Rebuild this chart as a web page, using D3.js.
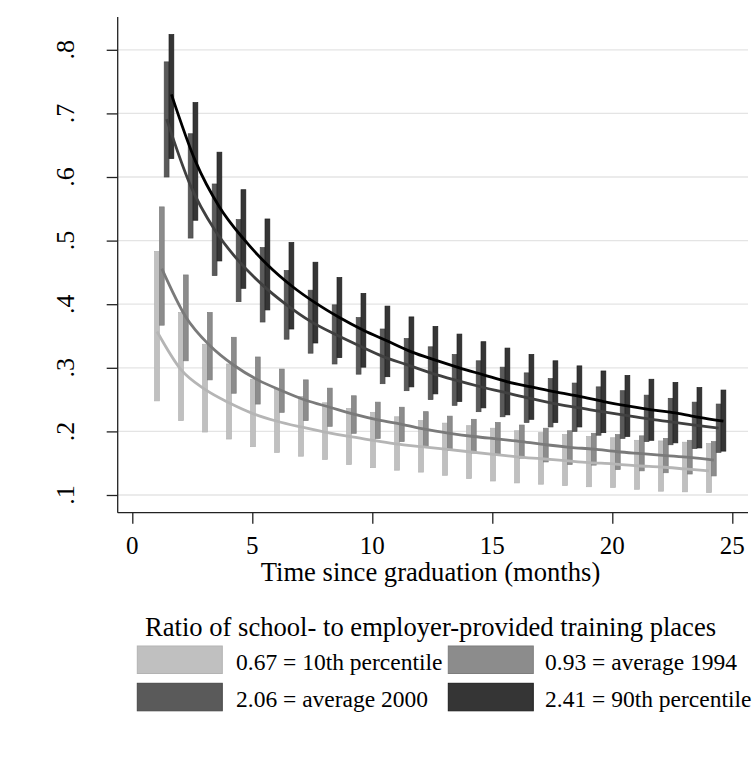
<!DOCTYPE html>
<html>
<head>
<meta charset="utf-8">
<script src="https://cdn.jsdelivr.net/npm/d3@7"></script>
<style>
  html, body { margin: 0; padding: 0; background: #fff; }
  svg { display: block; }
  text { font-family: "Liberation Serif", "Times New Roman", serif; fill: #000; }
</style>
</head>
<body>
<div id="chart"></div>
<script>
// ---------------- data ----------------
const months = [1,2,3,4,5,6,7,8,9,10,11,12,13,14,15,16,17,18,19,20,21,22,23,24];

const seriesNames = ["0.67 = 10th percentile", "0.93 = average 1994", "2.06 = average 2000", "2.41 = 90th percentile"];
const legendTitle = "Ratio of school- to employer-provided training places";
const xTitle = "Time since graduation (months)";
const xTicks = [0, 5, 10, 15, 20, 25];
const yTicks = [0.1, 0.2, 0.3, 0.4, 0.5, 0.6, 0.7, 0.8];
const yTickLabels = [".1", ".2", ".3", ".4", ".5", ".6", ".7", ".8"];

// 0.67 = 10th percentile
const p10Est = [0.357,0.297,0.266,0.245,0.228,0.216,0.207,0.199,0.192,0.186,0.180,0.176,0.172,0.168,0.164,0.160,0.157,0.154,0.151,0.149,0.146,0.144,0.141,0.138];
const p10Lo  = [0.248,0.217,0.199,0.188,0.176,0.167,0.161,0.156,0.148,0.143,0.139,0.136,0.131,0.126,0.122,0.119,0.117,0.115,0.113,0.112,0.109,0.106,0.105,0.104];
const p10Hi  = [0.483,0.387,0.337,0.306,0.282,0.266,0.255,0.245,0.236,0.230,0.223,0.217,0.213,0.209,0.205,0.201,0.198,0.195,0.192,0.190,0.186,0.185,0.183,0.181];

// 0.93 = average 1994
const a94Est = [0.456,0.380,0.335,0.304,0.281,0.264,0.249,0.238,0.227,0.218,0.211,0.203,0.197,0.192,0.188,0.184,0.179,0.175,0.172,0.168,0.165,0.162,0.159,0.155];
const a94Lo  = [0.367,0.311,0.281,0.260,0.243,0.230,0.217,0.208,0.197,0.189,0.184,0.175,0.170,0.166,0.162,0.158,0.152,0.148,0.147,0.140,0.138,0.135,0.133,0.130];
const a94Hi  = [0.553,0.446,0.387,0.348,0.317,0.298,0.281,0.268,0.256,0.246,0.238,0.231,0.224,0.219,0.214,0.210,0.205,0.201,0.197,0.195,0.193,0.189,0.186,0.184];

// 2.06 = average 2000
const a00Est = [0.691,0.586,0.517,0.468,0.430,0.399,0.373,0.353,0.335,0.318,0.305,0.292,0.281,0.271,0.262,0.253,0.245,0.238,0.232,0.226,0.220,0.215,0.210,0.205];
const a00Lo  = [0.600,0.504,0.445,0.404,0.372,0.345,0.323,0.306,0.290,0.275,0.264,0.250,0.241,0.231,0.223,0.214,0.207,0.200,0.194,0.189,0.184,0.179,0.173,0.167];
const a00Hi  = [0.781,0.668,0.589,0.533,0.489,0.453,0.422,0.399,0.379,0.361,0.346,0.333,0.321,0.311,0.301,0.292,0.283,0.276,0.270,0.264,0.257,0.252,0.246,0.243];

// 2.41 = 90th percentile
const p90Est = [0.730,0.625,0.553,0.503,0.462,0.429,0.402,0.379,0.359,0.342,0.325,0.312,0.300,0.289,0.278,0.270,0.262,0.255,0.247,0.240,0.234,0.229,0.222,0.216];
const p90Lo  = [0.629,0.532,0.468,0.425,0.391,0.361,0.339,0.316,0.301,0.286,0.270,0.259,0.247,0.237,0.226,0.219,0.214,0.207,0.198,0.192,0.186,0.182,0.174,0.169];
const p90Hi  = [0.824,0.717,0.639,0.580,0.534,0.497,0.466,0.442,0.417,0.397,0.380,0.365,0.353,0.341,0.331,0.321,0.311,0.303,0.295,0.288,0.282,0.277,0.269,0.265];

// ---------------- drawing ----------------
const W = 756, H = 758;
const svg = d3.select("#chart").append("svg").attr("width", W).attr("height", H);
svg.append("rect").attr("width", W).attr("height", H).attr("fill", "#fff");

const plotLeft = 117.7, plotRight = 748, plotTop = 17, plotBottom = 512.7;
const x = d3.scaleLinear().domain([0, 25]).range([132.3, 732.3]);
const y = d3.scaleLinear().domain([0.1, 0.8]).range([495, 49.8]);

const styles = [
  { fill: "#c0c0c0", stroke: "#b3b3b3", line: "#b5b5b5", shift: 0.03 },
  { fill: "#8c8c8c", stroke: "#7d7d7d", line: "#7a7a7a", shift: 0.23 },
  { fill: "#5a5a5a", stroke: "#484848", line: "#404040", shift: 0.43 },
  { fill: "#353535", stroke: "#1e1e1e", line: "#000000", shift: 0.63 }
];
const series = [
  { est: p10Est, lo: p10Lo, hi: p10Hi },
  { est: a94Est, lo: a94Lo, hi: a94Hi },
  { est: a00Est, lo: a00Lo, hi: a00Hi },
  { est: p90Est, lo: p90Lo, hi: p90Hi }
];

// gridlines
svg.append("g").selectAll("line").data(yTicks).join("line")
  .attr("x1", plotLeft).attr("x2", plotRight)
  .attr("y1", d => y(d)).attr("y2", d => y(d))
  .attr("stroke", "#e4e4e4").attr("stroke-width", 1.3);

// bars
const barW = 4.8;
series.forEach((s, i) => {
  const st = styles[i];
  svg.append("g").selectAll("rect").data(months).join("rect")
    .attr("x", (m) => x(m + st.shift) - barW / 2)
    .attr("width", barW)
    .attr("y", (m, j) => y(s.hi[j]))
    .attr("height", (m, j) => y(s.lo[j]) - y(s.hi[j]))
    .attr("fill", st.fill)
    .attr("stroke", st.stroke)
    .attr("stroke-width", 0.7);
});

// lines
series.forEach((s, i) => {
  const st = styles[i];
  const line = d3.line()
    .x((m) => x(m + st.shift))
    .y((m, j) => y(s.est[j]))
    .curve(d3.curveMonotoneX);
  svg.append("path").datum(months)
    .attr("d", line)
    .attr("fill", "none")
    .attr("stroke", st.line)
    .attr("stroke-width", 2.8);
});

// axes
const yAxisG = svg.append("g").attr("transform", `translate(${plotLeft},0)`);
yAxisG.call(d3.axisLeft(y).tickValues(yTicks).tickSize(11).tickFormat(""))
  .call(g => g.select(".domain").remove());
yAxisG.selectAll(".tick line").attr("stroke", "#222").attr("stroke-width", 1.3);
svg.append("line").attr("x1", plotLeft).attr("x2", plotLeft)
  .attr("y1", plotTop).attr("y2", plotBottom).attr("stroke", "#222").attr("stroke-width", 1.3);

svg.append("g").selectAll("text").data(yTicks).join("text")
  .attr("transform", d => `translate(73.5,${y(d)}) rotate(-90)`)
  .attr("text-anchor", "middle")
  .attr("font-size", 26)
  .text((d, i) => yTickLabels[i]);

const xAxisG = svg.append("g").attr("transform", `translate(0,${plotBottom})`);
xAxisG.call(d3.axisBottom(x).tickValues(xTicks).tickSize(11).tickFormat(""))
  .call(g => g.select(".domain").remove());
xAxisG.selectAll(".tick line").attr("stroke", "#222").attr("stroke-width", 1.3);
svg.append("line").attr("x1", plotLeft).attr("x2", plotRight)
  .attr("y1", plotBottom).attr("y2", plotBottom).attr("stroke", "#222").attr("stroke-width", 1.3);

svg.append("g").selectAll("text").data(xTicks).join("text")
  .attr("x", d => x(d)).attr("y", 553.5)
  .attr("text-anchor", "middle")
  .attr("font-size", 25)
  .text(d => d);

svg.append("text").attr("x", 430.5).attr("y", 580.5)
  .attr("text-anchor", "middle").attr("font-size", 26.6).text(xTitle);

// legend
svg.append("text").attr("x", 145).attr("y", 635.5)
  .attr("font-size", 26.6).text(legendTitle);

const keyPos = [
  { sx: 137.3, sy: 646, tx: 236, ty: 670 },
  { sx: 448.3, sy: 646, tx: 545, ty: 670 },
  { sx: 137.3, sy: 683.3, tx: 236, ty: 707 },
  { sx: 448.3, sy: 683.3, tx: 545, ty: 707 }
];
const lg = svg.append("g");
seriesNames.forEach((name, i) => {
  const k = keyPos[i], st = styles[i];
  lg.append("rect").attr("x", k.sx).attr("y", k.sy).attr("width", 85).attr("height", 27.5)
    .attr("fill", st.fill).attr("stroke", st.stroke).attr("stroke-width", 1);
  lg.append("text").attr("x", k.tx).attr("y", k.ty).attr("font-size", 23.5).text(name);
});
</script>
</body>
</html>
